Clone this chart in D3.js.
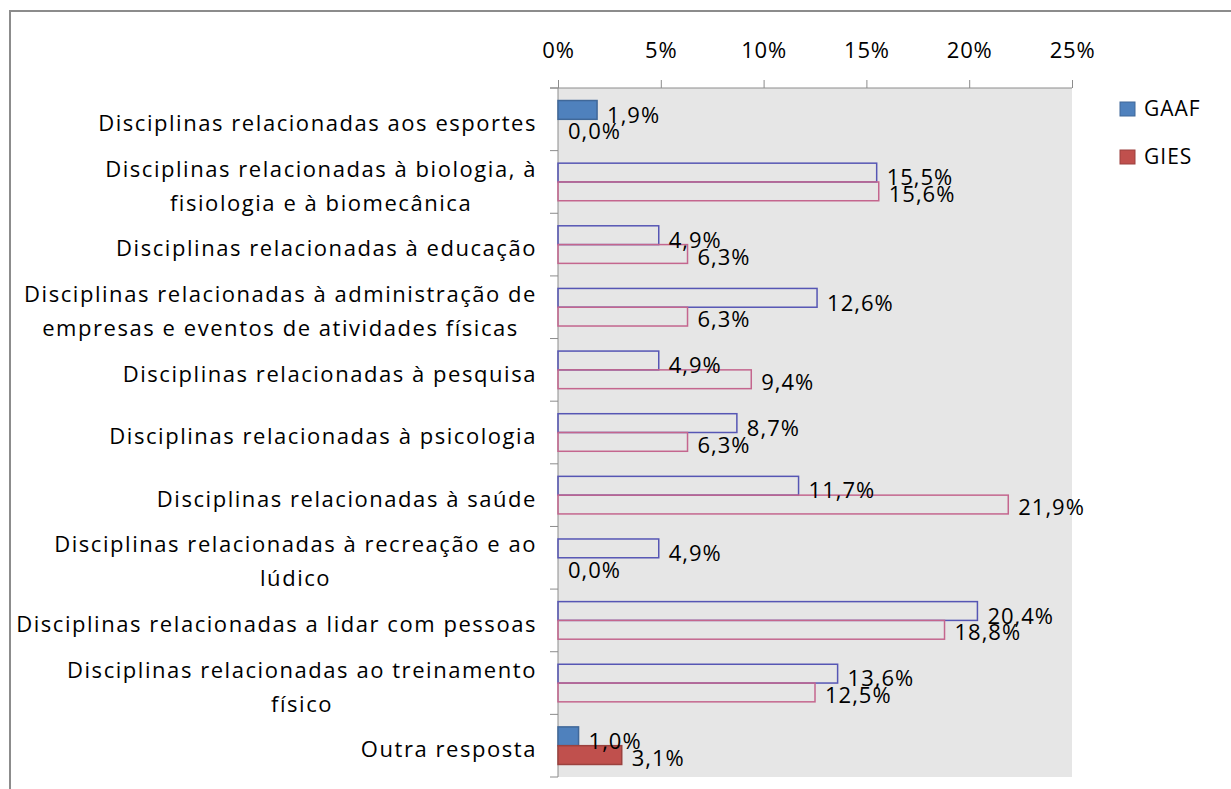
<!DOCTYPE html>
<html>
<head>
<meta charset="utf-8">
<script src="https://cdn.jsdelivr.net/npm/d3@7"></script>
<style>
  body { margin: 0; background: #fff; }
  text { font-family: "Open Sans", sans-serif; fill: #000; }
</style>
</head>
<body>
<div id="chart"></div>
<script>
const width = 1231;
const height = 789;

// categories, each one is a list of wrapped lines
const categories = [
    ["Disciplinas relacionadas aos esportes"],
    ["Disciplinas relacionadas à biologia, à", "fisiologia e à biomecânica"],
    ["Disciplinas relacionadas à educação"],
    ["Disciplinas relacionadas à administração de", "empresas e eventos de atividades físicas"],
    ["Disciplinas relacionadas à pesquisa"],
    ["Disciplinas relacionadas à psicologia"],
    ["Disciplinas relacionadas à saúde"],
    ["Disciplinas relacionadas à recreação e ao", "lúdico"],
    ["Disciplinas relacionadas a lidar com pessoas"],
    ["Disciplinas relacionadas ao treinamento", "físico"],
    ["Outra resposta"]
];
const series = ["GAAF", "GIES"];
const gaaf = [1.9, 15.5, 4.9, 12.6, 4.9, 8.7, 11.7, 4.9, 20.4, 13.6, 1.0];
const gies = [0.0, 15.6, 6.3, 6.3, 9.4, 6.3, 21.9, 0.0, 18.8, 12.5, 3.1];
const xTicks = [0, 5, 10, 15, 20, 25];

// rows drawn with solid fill (the others are outline only)
const solidRows = [0, 10];

const fills = { GAAF: "#4f81bd", GIES: "#c0504d" };
const outlines = { GAAF: "#5656b4", GIES: "#c4668e" };

const margin = { top: 88, right: 159, bottom: 12, left: 558 };

const svg = d3.select("#chart")
    .append("svg")
    .attr("width", width)
    .attr("height", height);

// outer chart frame
svg.append("path")
    .attr("d", `M10,${height} V11 H${width}`)
    .attr("fill", "none")
    .attr("stroke", "#8c8c8c")
    .attr("stroke-width", 2);

const x = d3.scaleLinear()
    .domain([0, 25])
    .range([margin.left, width - margin.right]);

const y = d3.scaleBand()
    .domain(d3.range(categories.length))
    .range([margin.top, height - margin.bottom])
    .paddingInner(0.4)
    .paddingOuter(0.2);

const ySub = d3.scaleBand()
    .domain(series)
    .range([0, y.bandwidth()]);

// plot background
svg.append("rect")
    .attr("x", x(0))
    .attr("y", margin.top)
    .attr("width", x(25) - x(0))
    .attr("height", height - margin.bottom - margin.top)
    .attr("fill", "#e6e6e6");

// top axis
const xAxis = svg.append("g")
    .attr("transform", `translate(0,${margin.top})`)
    .call(d3.axisTop(x).tickValues(xTicks).tickFormat(d => d + "%").tickSize(8).tickPadding(22));
xAxis.select(".domain").remove();
xAxis.append("line")
    .attr("x1", x(0) - 8).attr("x2", x(25))
    .attr("stroke", "#8c8c8c");
xAxis.selectAll("line").attr("stroke", "#8c8c8c");
xAxis.selectAll("text")
    .style("font-family", "'Open Sans', sans-serif")
    .style("font-size", "22px")
    .style("letter-spacing", "0.8px")
    .attr("fill", "#000");

// left axis line and category ticks
const step = y.step();
const boundaries = d3.range(categories.length + 1).map(i => margin.top + i * step);
svg.append("line")
    .attr("x1", x(0)).attr("x2", x(0))
    .attr("y1", margin.top).attr("y2", height - margin.bottom)
    .attr("stroke", "#8c8c8c");
svg.selectAll(".ytick")
    .data(boundaries)
    .enter()
    .append("line")
    .attr("x1", x(0) - 8).attr("x2", x(0))
    .attr("y1", d => d).attr("y2", d => d)
    .attr("stroke", "#8c8c8c");

// category labels
const labelRight = x(0) - 21;
const lineHeight = 34;
categories.forEach((lines, i) => {
    const cy = y(i) + y.bandwidth() / 2 + 4;
    const g = svg.append("g");
    const texts = lines.map((line, j) => g.append("text")
        .attr("y", cy + (j - (lines.length - 1) / 2) * lineHeight)
        .attr("dy", "0.35em")
        .style("font-size", "22px")
        .style("letter-spacing", "1.55px")
        .text(line));
    const widths = texts.map(t => t.node().getComputedTextLength());
    const maxW = d3.max(widths);
    const center = labelRight - maxW / 2;
    texts.forEach(t => t.attr("x", center).attr("text-anchor", "middle"));
});

// bars
const rows = categories.map((c, i) => ({ i, GAAF: gaaf[i], GIES: gies[i] }));

const groups = svg.selectAll(".row")
    .data(rows)
    .enter()
    .append("g")
    .attr("transform", d => `translate(0,${y(d.i)})`);

groups.selectAll("rect")
    .data(d => series.map(s => ({ s, v: d[s], solid: solidRows.includes(d.i) })))
    .enter()
    .append("rect")
    .attr("x", x(0))
    .attr("y", d => ySub(d.s))
    .attr("width", d => x(d.v) - x(0))
    .attr("height", ySub.bandwidth())
    .attr("fill", d => d.solid ? fills[d.s] : "none")
    .attr("stroke", d => d.v > 0 ? (d.solid ? d3.color(fills[d.s]).darker(0.6) : outlines[d.s]) : "none")
    .attr("stroke-width", 1.5);

groups.selectAll(".val")
    .data(d => series.map(s => ({ s, v: d[s] })))
    .enter()
    .append("text")
    .attr("x", d => x(d.v) + 10)
    .attr("y", d => ySub(d.s) + ySub.bandwidth() / 2 + (d.s === "GAAF" ? 5 : 3))
    .attr("dy", "0.35em")
    .style("font-size", "22px")
    .style("letter-spacing", "1px")
    .text(d => d.v.toFixed(1).replace(".", ",") + "%");

// legend
const legend = svg.selectAll(".legend")
    .data(series)
    .enter()
    .append("g")
    .attr("transform", (d, i) => `translate(1120,${102 + i * 48})`);
legend.append("rect")
    .attr("width", 15).attr("height", 14)
    .attr("fill", d => fills[d])
    .attr("stroke", d => d3.color(fills[d]).darker(0.6));
legend.append("text")
    .attr("x", 24).attr("y", 7).attr("dy", "0.35em")
    .style("font-size", "21px")
    .style("letter-spacing", "1px")
    .text(d => d);
</script>
</body>
</html>
